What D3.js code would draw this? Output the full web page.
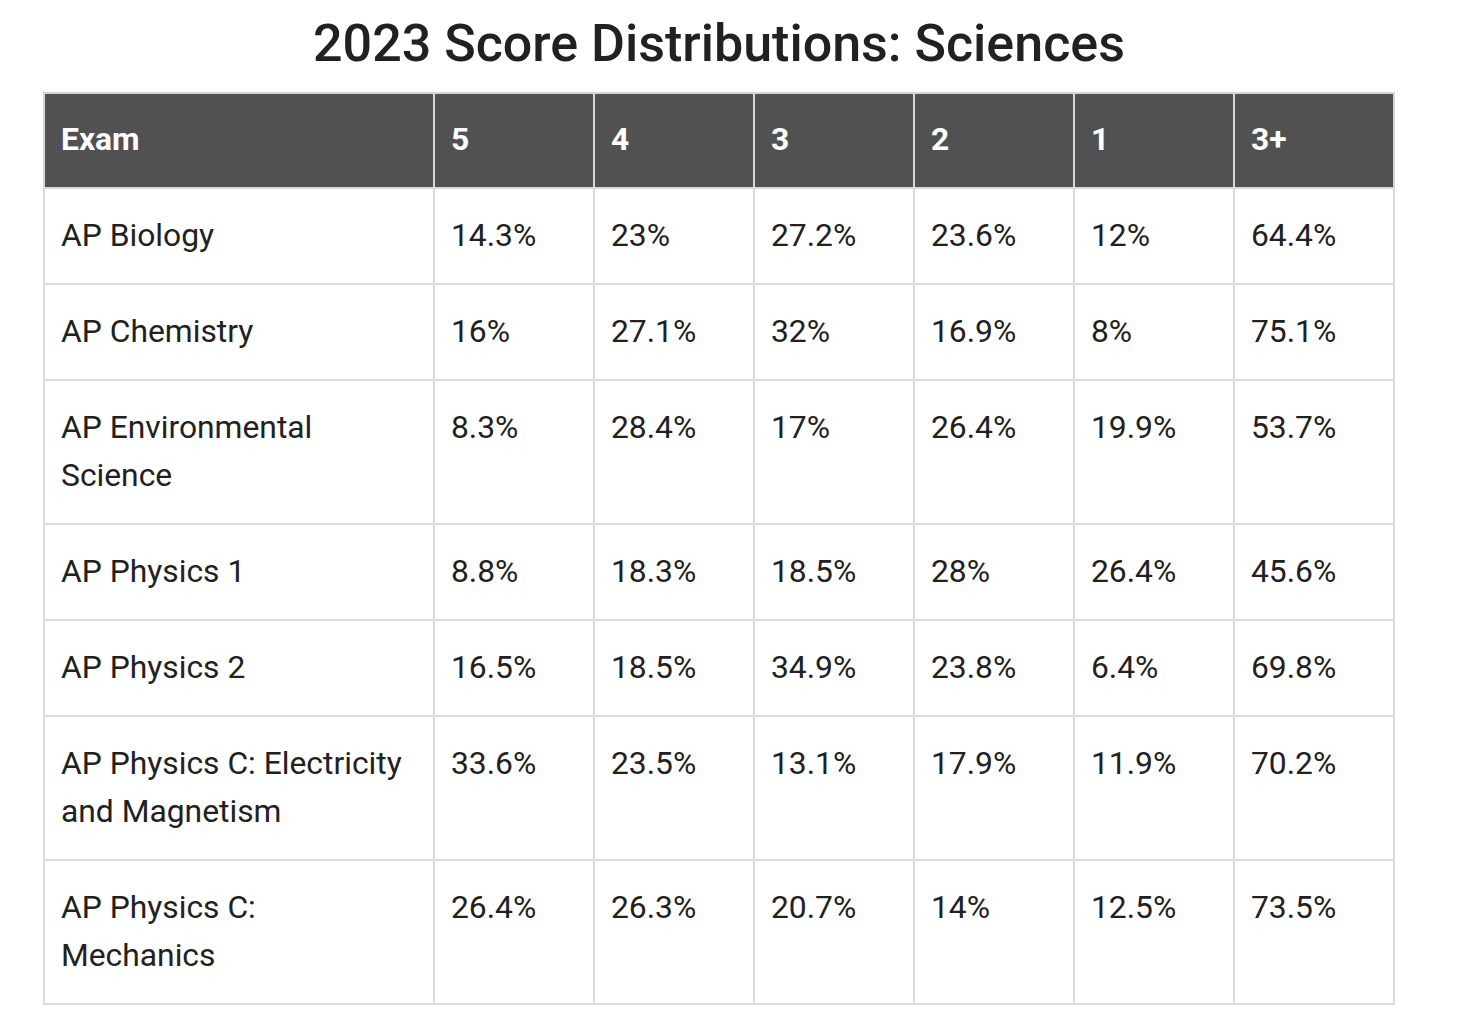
<!DOCTYPE html>
<html>
<head>
<meta charset="utf-8">
<script src="https://cdn.jsdelivr.net/npm/d3@7"></script>
<style>
  body { margin: 0; background: #fff; font-family: Roboto, "Noto Sans", sans-serif; color: #212121; }
  #title { position: absolute; left: 43px; width: 1352px; top: 0; height: 88px; line-height: 88px;
           text-align: center; font-size: 52px; font-weight: 500; }
  table { position: absolute; left: 43px; top: 92px; border-collapse: collapse; table-layout: fixed; width: 1352px; }
  th, td { border: 2px solid #dcdcdc; padding: 22px 17px 24px 16px; line-height: 48px; font-size: 31.8px;
           text-align: left; vertical-align: top; }
  th { background: #515151; color: #fff; font-weight: 700; border-color: #d6d6d6; padding-top: 21px; }
</style>
</head>
<body>
<div id="title"></div>
<div id="chart"></div>
<script>
var title = "2023 Score Distributions: Sciences";
var columns = ["Exam", "5", "4", "3", "2", "1", "3+"];
var exams = ["AP Biology", "AP Chemistry", "AP Environmental Science", "AP Physics 1", "AP Physics 2",
             "AP Physics C: Electricity and Magnetism", "AP Physics C: Mechanics"];
var score5 = [14.3, 16, 8.3, 8.8, 16.5, 33.6, 26.4];
var score4 = [23, 27.1, 28.4, 18.3, 18.5, 23.5, 26.3];
var score3 = [27.2, 32, 17, 18.5, 34.9, 13.1, 20.7];
var score2 = [23.6, 16.9, 26.4, 28, 23.8, 17.9, 14];
var score1 = [12, 8, 19.9, 26.4, 6.4, 11.9, 12.5];
var score3plus = [64.4, 75.1, 53.7, 45.6, 69.8, 70.2, 73.5];

var colWidths = [390, 160, 160, 160, 160, 160, 160];

d3.select("#title").text(title);

var rows = exams.map(function(exam, i) {
    return [exam, score5[i], score4[i], score3[i], score2[i], score1[i], score3plus[i]];
});

var table = d3.select("#chart").append("table");

table.append("colgroup").selectAll("col")
    .data(colWidths)
    .enter().append("col")
    .style("width", d => d + "px");

table.append("thead").append("tr")
    .selectAll("th")
    .data(columns)
    .enter().append("th")
    .text(d => d);

table.append("tbody").selectAll("tr")
    .data(rows)
    .enter().append("tr")
    .selectAll("td")
    .data(d => d)
    .enter().append("td")
    .text((d, i) => i == 0 ? d : d + "%");
</script>
</body>
</html>
